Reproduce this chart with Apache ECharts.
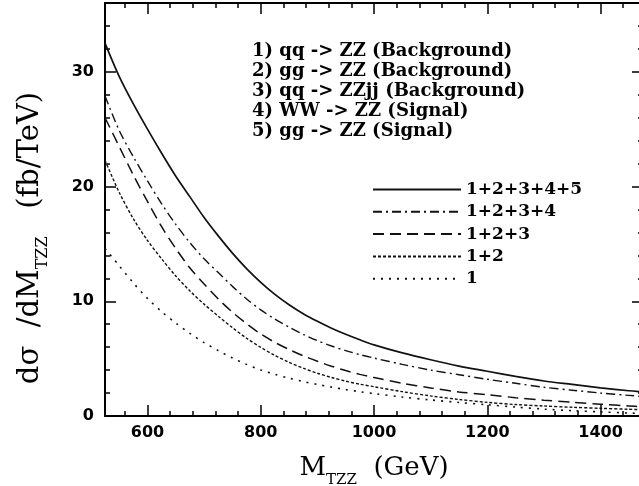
<!DOCTYPE html>
<html lang="en">
<head>
    <meta charset="UTF-8">
    <title>dsigma/dM_TZZ</title>
    <style>
        html, body { margin: 0; padding: 0; background: #fff; }
    </style>
</head>
<body>
<div id="main" style="width: 639px;height:486px;"></div>
<script src="https://cdn.jsdelivr.net/npm/echarts@6/dist/echarts.min.js"></script>
<script type="text/javascript">
    var myChart = echarts.init(document.getElementById("main"));

    // M_TZZ (GeV)
    var massX = [525, 550, 575, 600, 625, 650, 675, 700, 725, 750, 775, 800, 825, 850, 875, 900, 925, 950, 975, 1000,
        1050, 1100, 1150, 1200, 1250, 1300, 1350, 1400, 1450, 1475];
    // dsigma/dM (fb/TeV)
    var sum12345 = [32.5, 29.6, 27.2, 25.0, 22.9, 20.9, 19.1, 17.3, 15.7, 14.2, 12.85, 11.65, 10.6, 9.7, 8.92, 8.25, 7.65, 7.12, 6.64, 6.2,
        5.5, 4.9, 4.35, 3.9, 3.45, 3.05, 2.75, 2.45, 2.2, 2.1];
    var sum1234 = [27.9, 24.9, 22.6, 20.5, 18.5, 16.7, 15.1, 13.7, 12.5, 11.3, 10.2, 9.25, 8.45, 7.75, 7.12, 6.57, 6.1, 5.7, 5.35, 5.05,
        4.5, 4.0, 3.6, 3.2, 2.85, 2.5, 2.25, 2.0, 1.8, 1.7];
    var sum123 = [26.0, 23.5, 21.0, 18.7, 16.5, 14.6, 12.9, 11.5, 10.2, 9.05, 8.05, 7.15, 6.42, 5.8, 5.25, 4.77, 4.34, 3.96, 3.63, 3.35,
        2.85, 2.45, 2.1, 1.85, 1.6, 1.38, 1.2, 1.03, 0.88, 0.8];
    var sum12 = [22.3, 19.5, 17.2, 15.3, 13.7, 12.2, 10.9, 9.75, 8.7, 7.7, 6.78, 5.98, 5.28, 4.68, 4.17, 3.73, 3.36, 3.04, 2.77, 2.55,
        2.12, 1.75, 1.44, 1.19, 1.0, 0.87, 0.76, 0.67, 0.59, 0.55];
    var only1 = [14.6, 13.1, 11.6, 10.25, 9.1, 8.1, 7.2, 6.4, 5.7, 5.05, 4.5, 4.02, 3.63, 3.3, 3.0, 2.75, 2.52, 2.3, 2.12, 1.95,
        1.65, 1.4, 1.18, 0.98, 0.78, 0.6, 0.46, 0.36, 0.26, 0.22];

    var seriesNames = ["1+2+3+4+5", "1+2+3+4", "1+2+3", "1+2", "1"];
    var processLines = [
        "1) qq -> ZZ (Background)",
        "2) gg -> ZZ (Background)",
        "3) qq -> ZZjj (Background)",
        "4) WW -> ZZ (Signal)",
        "5) gg -> ZZ (Signal)"
    ];

    // tick marks
    var xMajor = [600, 800, 1000, 1200, 1400];
    var xMinor = [560, 640, 680, 720, 760, 840, 880, 920, 960, 1040, 1080, 1120, 1160,
        1240, 1280, 1320, 1360, 1440];
    var yMajor = [0, 10, 20, 30];
    var yMinor = [2, 4, 6, 8, 12, 14, 16, 18, 22, 24, 26, 28, 32, 34];

    var serif = "DejaVu Serif";
    var sans = "DejaVu Sans";

    function pairs(ys) {
        return massX.map(function (x, i) { return [x, ys[i]]; });
    }

    function plain(v) { return String(v); }

    function xAxisDef(pos, ticks, len, withLine, withLabel) {
        return {
            type: "value", min: 525, max: 1475, position: pos,
            axisLine: { show: withLine, onZero: false, lineStyle: { color: "#000", width: 2 } },
            axisTick: { show: true, inside: true, length: len, customValues: ticks,
                lineStyle: { color: "#000", width: 1.5 } },
            axisLabel: withLabel ? { show: true, customValues: ticks, margin: 9, color: "#000", formatter: plain,
                fontFamily: sans, fontWeight: "bold", fontSize: 16 } : { show: false },
            splitLine: { show: false }
        };
    }

    function yAxisDef(pos, ticks, len, withLine, withLabel) {
        return {
            type: "value", min: 0, max: 36, position: pos,
            axisLine: { show: withLine, onZero: false, lineStyle: { color: "#000", width: 2 } },
            axisTick: { show: true, inside: true, length: len, customValues: ticks,
                lineStyle: { color: "#000", width: 1.5 } },
            axisLabel: withLabel ? { show: true, customValues: ticks, margin: 11, color: "#000", formatter: plain,
                fontFamily: sans, fontWeight: "bold", fontSize: 16 } : { show: false },
            splitLine: { show: false }
        };
    }

    var xBottom = xAxisDef("bottom", xMajor, 11, true, true);
    xBottom.name = "{a|M}{s|TZZ}{a|  (GeV)}";
    xBottom.nameLocation = "middle";
    xBottom.nameGap = 32;
    xBottom.nameTextStyle = {
        rich: {
            a: { fontFamily: serif, fontSize: 26, color: "#000", lineHeight: 40 },
            s: { fontFamily: serif, fontSize: 15, color: "#000", lineHeight: 16, padding: [24, 0, 0, 0] }
        }
    };

    var lineColor = "#111";
    var styles = [
        { type: "solid", width: 1.7 },
        { type: [9, 4, 2, 4], width: 1.4 },
        { type: [11, 6], width: 1.5 },
        { type: [3, 2], width: 1.4 },
        { type: [2, 6], width: 1.6 }
    ];
    var values = [sum12345, sum1234, sum123, sum12, only1];

    var option = {
        animation: false,
        grid: { left: 105, right: -4, top: 3, bottom: 70, containLabel: false, outerBoundsMode: "none" },
        legend: {
            orient: "vertical",
            left: 372, top: 181,
            padding: 0,
            itemWidth: 88, itemHeight: 14, itemGap: 5.3,
            data: seriesNames,
            itemStyle: { opacity: 0 },
            textStyle: { fontFamily: serif, fontWeight: "bold", fontSize: 17, color: "#000" }
        },
        xAxis: [
            xBottom,
            xAxisDef("bottom", xMinor, 5, false, false),
            xAxisDef("top", xMajor, 11, true, false),
            xAxisDef("top", xMinor, 5, false, false)
        ],
        yAxis: [
            yAxisDef("left", yMajor, 11, true, true),
            yAxisDef("left", yMinor, 5, false, false),
            yAxisDef("right", yMajor, 11, true, false),
            yAxisDef("right", yMinor, 5, false, false)
        ],
        graphic: [
            {
                type: "text", left: 252, top: 41,
                style: {
                    text: processLines.join("\n"),
                    font: "bold 18px '" + serif + "'",
                    lineHeight: 20, fill: "#000"
                }
            },
            {
                type: "text", x: 30, y: 238, rotation: Math.PI / 2,
                style: {
                    text: "{a|d\u03c3  /dM}{s|TZZ}{a|   (fb/TeV)}",
                    align: "center", verticalAlign: "middle",
                    rich: {
                        a: { fontFamily: serif, fontSize: 29, fill: "#000", lineHeight: 43 },
                        s: { fontFamily: serif, fontSize: 16, fill: "#000", lineHeight: 17, padding: [26, 0, 0, 0] }
                    }
                }
            }
        ],
        series: seriesNames.map(function (name, i) {
            return {
                name: name,
                type: "line",
                xAxisIndex: 0, yAxisIndex: 0,
                smooth: 0.3,
                symbol: "none",
                clip: true,
                lineStyle: { color: lineColor, width: styles[i].width, type: styles[i].type },
                itemStyle: { color: lineColor },
                data: pairs(values[i])
            };
        })
    };

    myChart.setOption(option);
</script>
</body>
</html>
